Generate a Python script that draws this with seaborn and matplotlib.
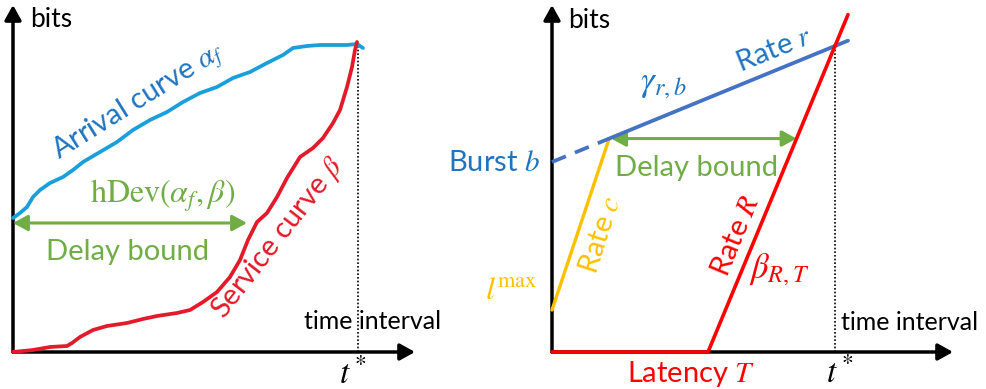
import numpy as np
import pandas as pd
import matplotlib
matplotlib.use("Agg")
import matplotlib.pyplot as plt
import seaborn as sns

# ---------------- data ----------------
# Left panel: measured arrival curve alpha_f and service curve beta (time, bits)
arrival_t = [0, 7, 14, 20, 27, 37, 50, 60, 70, 87, 104, 120, 137, 154, 170, 187,
             204, 220, 237, 254, 270, 280, 294, 307, 320, 334, 344, 350]
arrival_b = [134, 139, 145, 155, 162, 169, 175, 182, 190, 200, 210, 222, 232, 240,
             250, 259, 265, 274, 280, 289, 297, 304, 306, 307, 307, 307, 308, 304]
service_t = [0, 10, 20, 37, 54, 59, 67, 80, 94, 114, 130, 144, 164, 177, 190, 204,
             217, 227, 235, 244, 254, 264, 274, 287, 300, 310, 320, 327, 334, 339,
             342, 344]
service_b = [0, 1, 2, 5, 6, 9, 15, 22, 26, 29, 33, 36, 39, 42, 50, 60, 75, 92, 112,
             130, 139, 155, 174, 195, 204, 214, 229, 242, 265, 285, 302, 310]
left_tstar = 345          # end of the interval
left_delay_level = 129    # bits level of the horizontal deviation
left_delay_end = 234      # hDev(alpha_f, beta)

# Right panel: token bucket gamma_{r,b}, peak-rate line, rate-latency beta_{R,T}
burst_b = 190
rate_r = 0.41
l_max = 42
rate_c = 3.0
latency_T = 156
rate_R = 2.41
t_end = 296

# ---------------- style ----------------
sns.set_theme(style="white")
plt.rcParams["font.family"] = ["Lato", "DejaVu Sans"]
plt.rcParams["mathtext.fontset"] = "stix"

BLUE_CURVE = "#1a9fdb"
BLUE_TEXT = "#1f74c0"
BLUE_LINE = "#4472c4"
RED_CURVE = "#e31a2a"
RED = "#ff0000"
GREEN = "#70ad47"
YELLOW = "#ffc000"

W, H = 986, 389
fig = plt.figure(figsize=(W / 100, H / 100), dpi=100)
fig.patch.set_facecolor("white")

# one data unit == one pixel in both panels
axL = fig.add_axes([0, 0, 0.5, 1])
axL.set_xlim(-13, 480)
axL.set_ylim(-37, 352)
axR = fig.add_axes([0.5, 0, 0.5, 1])
axR.set_xlim(-59, 434)
axR.set_ylim(-37, 352)
for ax in (axL, axR):
    ax.axis("off")


def draw_axes(ax, x_tip, y_tip):
    style = "-|>,head_length=0.45,head_width=0.25"
    for tip in ((x_tip, 0), (0, y_tip)):
        ax.annotate("", xy=tip, xytext=(0, 0),
                    arrowprops=dict(arrowstyle=style, color="black", lw=2.5,
                                    mutation_scale=20, shrinkA=0, shrinkB=0),
                    zorder=3)


def double_arrow(ax, x0, x1, y):
    ax.annotate("", xy=(x1, y), xytext=(x0, y),
                arrowprops=dict(arrowstyle="<|-|>,head_length=0.55,head_width=0.3",
                                color=GREEN, lw=2.2, mutation_scale=16,
                                shrinkA=0, shrinkB=0),
                zorder=4)


SANS = 21      # coloured labels
AXIS = 18      # axis names

# ---------------- left panel ----------------
draw_axes(axL, 402, 347)
arr_df = pd.DataFrame({"t": arrival_t, "bits": arrival_b})
srv_df = pd.DataFrame({"t": service_t, "bits": service_b})
sns.lineplot(data=arr_df, x="t", y="bits", ax=axL, sort=False, estimator=None,
             color=BLUE_CURVE, lw=2.7, zorder=5)
sns.lineplot(data=srv_df, x="t", y="bits", ax=axL, sort=False, estimator=None,
             color=RED_CURVE, lw=2.7, zorder=6)
axL.plot([left_tstar, left_tstar], [0, 307], color="black", lw=1.2,
         linestyle=(0, (1, 1.2)), zorder=2)
double_arrow(axL, 0, left_delay_end, left_delay_level)

axL.text(17, 333, "bits", fontsize=19, ha="left", va="center", color="black")
axL.text(126, 250, r"Arrival curve $\alpha_f$", fontsize=SANS, color=BLUE_TEXT,
         rotation=32, rotation_mode="anchor", ha="center", va="center")
axL.text(150, 156, r"$\mathrm{hDev}(\alpha_f,\beta)$", fontsize=23, color=GREEN,
         ha="center", va="center")
axL.text(115, 100, "Delay bound", fontsize=SANS, color=GREEN, ha="center",
         va="center")
axL.text(265, 114, r"Service curve $\beta$", fontsize=SANS, color=RED_CURVE,
         rotation=52, rotation_mode="anchor", ha="center", va="center")
axL.text(291, 23, "time interval", fontsize=AXIS, color="black", ha="left",
         va="baseline")
axL.text(340, -21, r"$t^*$", fontsize=24, color="black", ha="center", va="center")

# ---------------- right panel ----------------
draw_axes(axR, 401, 347)
t_knee = (burst_b - l_max) / (rate_c - rate_r)
b_knee = burst_b + rate_r * t_knee
t_star = (burst_b + rate_R * latency_T) / (rate_R - rate_r)
t_delay = latency_T + b_knee / rate_R

gamma_df = pd.DataFrame({"t": [t_knee, t_end],
                         "bits": [burst_b + rate_r * t_knee, burst_b + rate_r * t_end]})
sns.lineplot(data=gamma_df, x="t", y="bits", ax=axR, sort=False, estimator=None,
             color=BLUE_LINE, lw=2.7, zorder=5)
burst_df = pd.DataFrame({"t": [0, t_knee], "bits": [burst_b, b_knee]})
sns.lineplot(data=burst_df, x="t", y="bits", ax=axR, sort=False, estimator=None,
             color=BLUE_LINE, lw=2.7, zorder=5)
axR.lines[-1].set_dashes([4, 2.6])

peak_df = pd.DataFrame({"t": [0, t_knee], "bits": [l_max, l_max + rate_c * t_knee]})
sns.lineplot(data=peak_df, x="t", y="bits", ax=axR, sort=False, estimator=None,
             color=YELLOW, lw=2.4, zorder=4)

t_top = t_end
beta_df = pd.DataFrame({"t": [0, latency_T, t_top],
                        "bits": [0, 0, rate_R * (t_top - latency_T)]})
sns.lineplot(data=beta_df, x="t", y="bits", ax=axR, sort=False, estimator=None,
             color=RED, lw=2.6, zorder=6)

axR.plot([t_star, t_star], [0, burst_b + rate_r * t_star], color="black", lw=1.2,
         linestyle=(0, (1, 1.2)), zorder=2)
double_arrow(axR, t_knee + 2, t_delay, b_knee)

axR.text(16, 332, "bits", fontsize=19, ha="left", va="center", color="black")
axR.text(222, 302, r"Rate $r$", fontsize=SANS, color=BLUE_TEXT, rotation=22,
         rotation_mode="anchor", ha="center", va="center")
axR.text(111, 267, r"$\gamma_{r,b}$", fontsize=25, color=BLUE_TEXT,
         ha="center", va="center")
axR.text(-12, 189, r"Burst $b$", fontsize=SANS, color=BLUE_TEXT, ha="right",
         va="center")
axR.text(-14, 62, r"$l^{\mathrm{max}}$", fontsize=23, color=YELLOW, ha="right",
         va="center")
axR.text(49, 117, r"Rate $c$", fontsize=SANS, color=YELLOW, rotation=72,
         rotation_mode="anchor", ha="center", va="center")
axR.text(145, 184, "Delay bound", fontsize=SANS, color=GREEN, ha="center",
         va="center")
axR.text(184, 116, r"Rate $R$", fontsize=SANS, color=RED, rotation=67.5,
         rotation_mode="anchor", ha="center", va="center")
axR.text(227, 82, r"$\beta_{R,T}$", fontsize=25, color=RED, ha="center",
         va="center")
axR.text(139, -22, r"Latency $T$", fontsize=SANS, color=RED, ha="center",
         va="center")
axR.text(289, 22, "time interval", fontsize=AXIS, color="black", ha="left",
         va="baseline")
axR.text(288, -20, r"$t^*$", fontsize=24, color="black", ha="center", va="center")

fig.savefig("out.png", dpi=100, facecolor="white")
